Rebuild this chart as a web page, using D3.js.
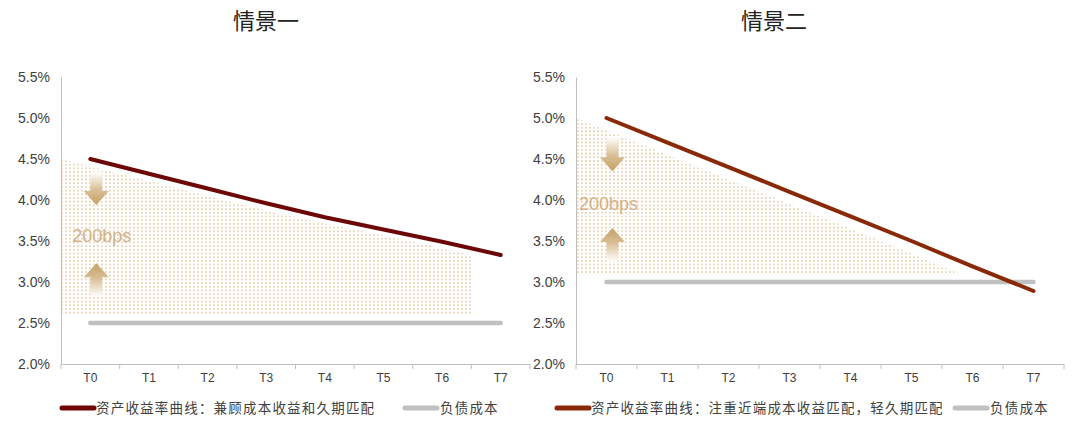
<!DOCTYPE html>
<html>
<head>
<meta charset="utf-8">
<script src="https://cdn.jsdelivr.net/npm/d3@7"></script>
<style>
  body { margin: 0; background: #fff; }
  svg text { font-family: "Liberation Sans", Arial, sans-serif; }
  .cjk { font-family: "Noto Sans CJK SC", sans-serif; }
</style>
</head>
<body>
<div id="chart"></div>
<script>
// data
const periods = ["T0", "T1", "T2", "T3", "T4", "T5", "T6", "T7"];
const yTicks = [2.0, 2.5, 3.0, 3.5, 4.0, 4.5, 5.0, 5.5];

const asset1 = [4.50, 4.32, 4.14, 3.96, 3.79, 3.64, 3.49, 3.33];
const liability1 = [2.5, 2.5, 2.5, 2.5, 2.5, 2.5, 2.5, 2.5];
const asset2 = [5.00, 4.70, 4.40, 4.10, 3.80, 3.50, 3.19, 2.89];
const liability2 = [3.0, 3.0, 3.0, 3.0, 3.0, 3.0, 3.0, 3.0];

const titles = ["情景一", "情景二"];
const assetNames = ["资产收益率曲线：兼顾成本收益和久期匹配", "资产收益率曲线：注重近端成本收益匹配，轻久期匹配"];
const liabilityName = "负债成本";
const gapLabel = "200bps";
// spread zone floor (%) for each scenario
const zoneFloor = [2.6, 3.1];

const width = 1080, height = 425;
const svg = d3.select("#chart").append("svg")
  .attr("width", width).attr("height", height);

const defs = svg.append("defs");

// dotted fill
const pat = defs.append("pattern")
  .attr("id", "dots")
  .attr("patternUnits", "userSpaceOnUse")
  .attr("width", 4).attr("height", 3.7);
pat.append("rect").attr("x", 1).attr("y", 1)
  .attr("width", 1.8).attr("height", 1.8).attr("fill", "#ecd4b2");

// arrow gradients
function grad(id, up) {
  const g = defs.append("linearGradient").attr("id", id)
    .attr("x1", 0).attr("x2", 0)
    .attr("y1", up ? 1 : 0).attr("y2", up ? 0 : 1);
  g.append("stop").attr("offset", "0%").attr("stop-color", "#ffffff");
  g.append("stop").attr("offset", "55%").attr("stop-color", "#d9be96");
  g.append("stop").attr("offset", "100%").attr("stop-color", "#c6a067");
}
grad("gDown", false);
grad("gUp", true);

function arrowPath(cx, yBase, yTip) {
  const dir = yTip > yBase ? 1 : -1;
  const yh = yTip - dir * 14;
  return `M${cx - 6},${yBase}L${cx + 6},${yBase}L${cx + 6},${yh}L${cx + 12.5},${yh}` +
         `L${cx},${yTip}L${cx - 12.5},${yh}L${cx - 6},${yh}Z`;
}

const panels = [
  {
    x0: 61, x1: 530, titleX: 266,
    asset: asset1, liability: liability1, color: "#6d0707",
    down: [4.34, 3.94], up: [2.82, 3.23], labelAt: 3.57,
    legendX: 62, legend2X: 405
  },
  {
    x0: 576, x1: 1064, titleX: 774,
    asset: asset2, liability: liability2, color: "#8a2908",
    down: [4.77, 4.35], up: [3.25, 3.66], labelAt: 3.96,
    legendX: 557, legend2X: 955
  }
];

panels.forEach((p, k) => {
  const y = d3.scaleLinear().domain([2.0, 5.5]).range([364, 77]);
  const xb = d3.scaleBand().domain(periods).range([p.x0, p.x1]);
  const bw = xb.bandwidth();
  const xi = d3.scaleLinear().domain([0, periods.length - 1])
    .range([xb(periods[0]) + bw / 2, xb(periods[periods.length - 1]) + bw / 2]);

  const g = svg.append("g");

  // title
  g.append("text").attr("class", "cjk")
    .attr("x", p.titleX).attr("y", 29)
    .attr("text-anchor", "middle")
    .style("font-size", "22px").style("fill", "#222")
    .text(titles[k]);

  // spread zone (asset curve shifted half a period left)
  const clipId = "clip" + k;
  defs.append("clipPath").attr("id", clipId)
    .append("rect")
    .attr("x", xi(-0.5)).attr("y", 0)
    .attr("width", xi(periods.length - 1) - xi(-0.5))
    .attr("height", y(zoneFloor[k]));
  const area = d3.area()
    .x((d, i) => xi(i - 0.5))
    .y0(y(zoneFloor[k]))
    .y1(d => y(d));
  g.append("path")
    .datum(p.asset.slice(0, periods.length))
    .attr("d", area)
    .attr("clip-path", `url(#${clipId})`)
    .attr("fill", "url(#dots)");

  // y axis
  const ya = g.append("g").attr("transform", `translate(${p.x0},0)`)
    .call(d3.axisLeft(y).tickValues(yTicks).tickSize(0).tickPadding(11)
      .tickFormat(d => d.toFixed(1) + "%"));
  ya.select(".domain").attr("stroke", "#bfbfbf");
  ya.selectAll("text").style("font-size", "14px").style("fill", "#404040")
    .style("font-family", "'Liberation Sans', Arial, sans-serif");

  // x axis
  const xa = g.append("g").attr("transform", `translate(0,${y(2.0)})`)
    .call(d3.axisBottom(xb).tickSize(0).tickPadding(9));
  xa.select(".domain").attr("stroke", "#bfbfbf");
  xa.selectAll("text").style("font-size", "12px").style("fill", "#404040")
    .style("font-family", "'Liberation Sans', Arial, sans-serif");
  const bounds = periods.map(d => xb(d)).concat([p.x1]);
  xa.selectAll(".bnd").data(bounds).enter().append("line")
    .attr("x1", d => d).attr("x2", d => d)
    .attr("y1", 0).attr("y2", 5)
    .attr("stroke", "#bfbfbf");

  // lines
  const line = d3.line().x((d, i) => xi(i)).y(d => y(d));
  g.append("path").datum(p.liability).attr("d", line)
    .attr("fill", "none").attr("stroke", "#c0c0c0")
    .attr("stroke-width", 4.5).attr("stroke-linecap", "round");
  g.append("path").datum(p.asset).attr("d", line)
    .attr("fill", "none").attr("stroke", p.color)
    .attr("stroke-width", 4).attr("stroke-linecap", "round");

  // 200bps annotation
  const ax = xi(0) + 6;
  g.append("path").attr("d", arrowPath(ax, y(p.down[0]), y(p.down[1])))
    .attr("fill", "url(#gDown)");
  g.append("path").attr("d", arrowPath(ax, y(p.up[0]), y(p.up[1])))
    .attr("fill", "url(#gUp)");
  g.append("text")
    .attr("x", k === 0 ? xi(-0.31) : xi(-0.45)).attr("y", y(p.labelAt))
    .attr("dy", "0.35em")
    .style("font-size", "18px").style("fill", "#d3b186")
    .text(gapLabel);

  // legend
  const ly = 408;
  g.append("line").attr("x1", p.legendX).attr("x2", p.legendX + 32)
    .attr("y1", ly).attr("y2", ly)
    .attr("stroke", p.color).attr("stroke-width", 5).attr("stroke-linecap", "round");
  g.append("text").attr("class", "cjk")
    .attr("x", p.legendX + 34).attr("y", ly).attr("dy", "0.36em")
    .style("font-size", "13.5px").style("letter-spacing", "1.2px").style("fill", "#404040")
    .text(assetNames[k]);
  g.append("line").attr("x1", p.legend2X).attr("x2", p.legend2X + 32)
    .attr("y1", ly).attr("y2", ly)
    .attr("stroke", "#c0c0c0").attr("stroke-width", 5).attr("stroke-linecap", "round");
  g.append("text").attr("class", "cjk")
    .attr("x", p.legend2X + 35).attr("y", ly).attr("dy", "0.36em")
    .style("font-size", "13.5px").style("letter-spacing", "1.2px").style("fill", "#404040")
    .text(liabilityName);
});
</script>
</body>
</html>
